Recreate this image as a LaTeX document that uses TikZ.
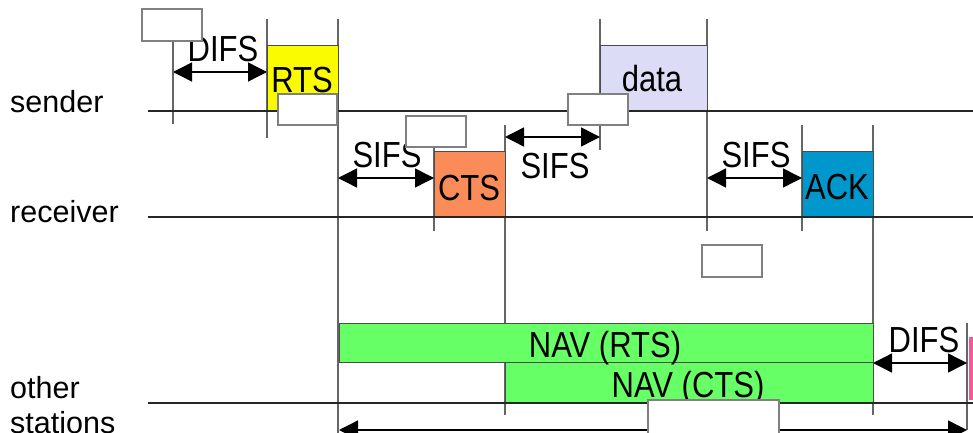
\documentclass[tikz,border=0pt]{standalone}
\usepackage{fontspec}
\setmainfont{Liberation Sans}
\usetikzlibrary{arrows.meta}
\definecolor{rtsY}{RGB}{250,250,0}
\definecolor{ctsO}{RGB}{250,140,90}
\definecolor{dataL}{RGB}{220,220,246}
\definecolor{ackB}{RGB}{0,152,204}
\definecolor{navG}{RGB}{102,255,102}
\definecolor{pinkP}{RGB}{240,90,150}
\newcommand\stretchlbl[1]{\scalebox{1}[1.17]{#1}}
\begin{document}
\begin{tikzpicture}[x=1pt,y=-1pt,
  frame/.style={draw=black!70,line width=0.9pt},
  hline/.style={draw=black!85,line width=1.8pt},
  vline/.style={draw=black!60,line width=1.3pt},
  span/.style={line width=1.4pt,{Triangle[length=19pt,width=19pt]}-{Triangle[length=19pt,width=19pt]}},
  lbl/.style={font=\fontsize{31}{36}\selectfont,anchor=base,inner sep=0pt},
  side/.style={font=\fontsize{30.5}{34}\selectfont,anchor=base west,inner sep=0pt,align=left},
  blank/.style={draw=black!50,fill=white,line width=1.1pt}]
\useasboundingbox (0,0) rectangle (973,433);
% time instants
\coordinate (t0) at (173,72);
\coordinate (t1) at (267,72);
\coordinate (s1a) at (338,178);
\coordinate (s1b) at (434,178);
\coordinate (s2a) at (505,137);
\coordinate (s2b) at (600,137);
\coordinate (s3a) at (707,178);
\coordinate (s3b) at (802,178);
\coordinate (d2a) at (873,363);
\coordinate (d2b) at (967,363);
\coordinate (ba) at (339,430);
\coordinate (bb) at (967,430);
% vertical ticks
\draw[vline] (173,30) -- (173,124);
\draw[vline] (267,19) -- (267,138);
\draw[vline] (338,19) -- (338,433);
\draw[vline] (434,125) -- (434,231);
\draw[vline] (505,125) -- (505,415);
\draw[vline] (600,19) -- (600,150);
\draw[vline] (707,19) -- (707,231);
\draw[vline] (802,125) -- (802,231);
\draw[vline] (873,125) -- (873,415);
\draw[vline] (967,323) -- (967,430);
% coloured frames
\draw[frame,fill=rtsY] (267,45) rectangle (338,111);
\draw[frame,fill=ctsO] (434,151) rectangle (505,217);
\draw[frame,fill=dataL] (600,45) rectangle (707,111);
\draw[frame,fill=ackB] (802,151) rectangle (873,217);
\draw[frame,fill=navG] (339,323) rectangle (873,362);
\draw[frame,fill=navG] (505,362) rectangle (873,403);
\fill[pinkP] (969,337) rectangle (975,400);
% time lines
\draw[hline] (148,111) -- (973,111);
\draw[hline] (148,217) -- (973,217);
\draw[hline] (148,403) -- (973,403);
% intervals
\draw[span] (t0) -- (t1);
\draw[span] (s1a) -- (s1b);
\draw[span] (s2a) -- (s2b);
\draw[span] (s3a) -- (s3b);
\draw[span] (d2a) -- (d2b);
\draw[span] (ba) -- (bb);
% labels
\node[lbl] (difs1) at (223,62) {\stretchlbl{DIFS}};
\node[lbl] (rts) at (302,93) {\stretchlbl{RTS}};
\node[lbl] (sifs1) at (387,167) {\stretchlbl{SIFS}};
\node[lbl] (cts) at (469,200) {\stretchlbl{CTS}};
\node[lbl] (data) at (652,92) {\stretchlbl{data}};
\node[lbl] (sifs2) at (555,178) {\stretchlbl{SIFS}};
\node[lbl] (sifs3) at (756,167) {\stretchlbl{SIFS}};
\node[lbl] (ack) at (837,199) {\stretchlbl{ACK}};
\node[lbl] (navr) at (605,357) {\stretchlbl{NAV (RTS)}};
\node[lbl] (navc) at (688,397) {\stretchlbl{NAV (CTS)}};
\node[lbl] (difs2) at (924,352) {\stretchlbl{DIFS}};
\node[side] (snd) at (10,113) {sender};
\node[side] (rcv) at (10,222) {receiver};
\node[side] (oth) at (10,398) {other};
\node[side] (sta) at (10,433) {stations};
% blank overlays
\draw[blank] (142,9) rectangle (202,41);
\draw[blank] (278,94) rectangle (337,125);
\draw[blank] (406,116) rectangle (466,147);
\draw[blank] (568,94) rectangle (628,125);
\draw[blank] (702,245) rectangle (762,277);
\draw[blank] (648,400) rectangle (779,445);
\end{tikzpicture}
\end{document}
